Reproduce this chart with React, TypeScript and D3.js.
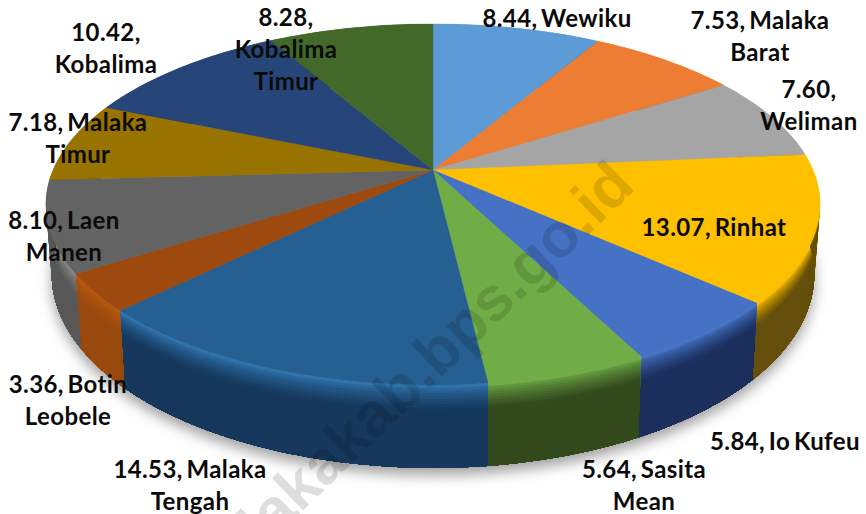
import React from "react";
import * as d3 from "d3";

const names = ["Wewiku","Malaka Barat","Weliman","Rinhat","Io Kufeu","Sasita Mean","Malaka Tengah","Botin Leobele","Laen Manen","Malaka Timur","Kobalima","Kobalima Timur"];
const values = [8.44,7.53,7.6,13.07,5.84,5.64,14.53,3.36,8.1,7.18,10.42,8.28];
const topColors = ["#5B9BD5","#ED7D31","#A5A5A5","#FFC000","#4472C4","#70AD47","#255E91","#9E480E","#636363","#997300","#264478","#43682B"];
const wallStart = ["#5B9BD5","#ED7D31","#A5A5A5","#FFC000","#4472C4","#70AD47","#2F74AE","#B9580F","#8A8A8A","#997300","#264478","#43682B"];
const wallEnd = ["#2f4f6e","#7a3f18","#555555","#665008","#1b2e5c","#32491e","#15395c","#9a4a0c","#585858","#4f3b00","#14233e","#223616"];
const labelLines = [["8.44, Wewiku"],["7.53, Malaka","Barat"],["7.60,","Weliman"],["13.07, Rinhat"],["5.84, Io Kufeu"],["5.64, Sasita","Mean"],["14.53, Malaka","Tengah"],["3.36, Botin","Leobele"],["8.10, Laen","Manen"],["7.18, Malaka","Timur"],["10.42,","Kobalima"],["8.28,","Kobalima","Timur"]];
const labelAnchors: [number, number][] = [[557,27],[760,29],[809,98],[714,236],[785,450],[644,478],[190,478],[68,393],[64,229],[78,131],[106,41],[286,26]];
const watermark = "malakakab.bps.go.id";

const W = 866, H = 514;
const cx = 433, cy = 170, A = 380, B = 174, k = 0.191, D = 67;

function project(theta: number, t: number): [number, number] {
  const u = Math.sin(theta), v = -Math.cos(theta);
  const w = 1 - k * v;
  const s = 1 - 0.015 * t;
  return [cx + (A * u / w) * s, cy + (B * v) / w + (D * t) / w];
}
const arcPts = (a0: number, a1: number, t: number) => {
  const n = Math.max(4, Math.ceil((a1 - a0) / 0.02));
  return d3.range(n + 1).map((i) => project(a0 + ((a1 - a0) * i) / n, t));
};
const line = d3.line();
const STRIPS = 30;

export default function App() {
  const slices = d3.pie<number>().sort(null).startAngle(0).endAngle(2 * Math.PI)(values);
  const outline = arcPts(0, 2 * Math.PI, 1);
  return (
    <svg width={W} height={H} viewBox={`0 0 ${W} ${H}`} style={{ position: "fixed", left: 0, top: 0, background: "#fff" }}>
      <defs>
        <filter id="shadow" x="-10%" y="-10%" width="120%" height="120%"><feGaussianBlur stdDeviation="7" /></filter>
        <filter id="soft" x="-2%" y="-2%" width="104%" height="104%"><feGaussianBlur stdDeviation="0.7" /></filter>
      </defs>
      <path d={line(outline.map(([x, y]) => [x, y + 7]))! + "Z"} fill="#000" opacity={0.38} filter="url(#shadow)" />
      <g filter="url(#soft)">
        {slices.map((s, i) => (
          <g key={"wall" + names[i]}>
            {d3.range(STRIPS).map((j) => {
              const t0 = j / STRIPS;
              const col = d3.interpolateRgb(wallStart[i], wallEnd[i])(Math.pow(Math.min(1, t0 / 0.28), 0.7));
              const pts = [...arcPts(s.startAngle, s.endAngle, t0), ...arcPts(s.startAngle, s.endAngle, 1).reverse()];
              return <path key={j} d={line(pts)! + "Z"} fill={col} />;
            })}
          </g>
        ))}
        {slices.map((s, i) => (
          <path
            key={"top" + names[i]}
            d={line([[cx, cy], ...arcPts(s.startAngle, s.endAngle, 0)])! + "Z"}
            fill={topColors[i]}
            stroke={topColors[i]}
            strokeWidth={0.3}
          />
        ))}
      </g>
      <text
        transform={`translate(637,188) rotate(-44)`}
        textAnchor="end"
        fontFamily="'Liberation Sans', sans-serif"
        fontWeight={700}
        fontSize={62}
        fill="#000"
        fillOpacity={0.13}
      >
        {watermark}
      </text>
      {labelLines.map((lines, i) => (
        <text
          key={names[i]}
          x={labelAnchors[i][0]}
          y={labelAnchors[i][1]}
          textAnchor="middle"
          fontFamily="Lato, sans-serif"
          fontWeight={700}
          fontSize={24}
          letterSpacing={0.4}
          wordSpacing={-2.5}
          fill="#0a0a0a"
        >
          {lines.map((l, j) => (
            <tspan key={j} x={labelAnchors[i][0]} dy={j === 0 ? 0 : 32}>{l}</tspan>
          ))}
        </text>
      ))}
    </svg>
  );
}
